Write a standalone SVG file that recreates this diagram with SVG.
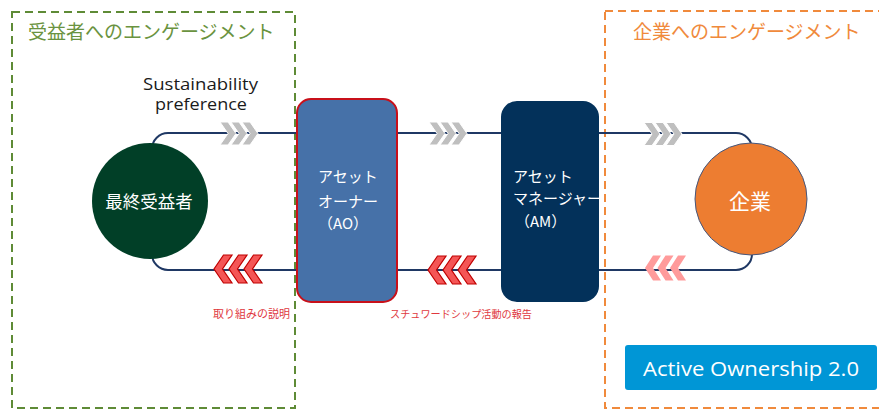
<svg xmlns="http://www.w3.org/2000/svg" xmlns:xlink="http://www.w3.org/1999/xlink" width="879" height="409" viewBox="0 0 879 409">
  <style>
    .jp { font-family: "Noto Sans CJK JP", "Noto Sans", sans-serif; }
    .lat { font-family: "Open Sans", "Noto Sans", "Liberation Sans", sans-serif; }
    .title-green { fill: #6A9340; font-size: 19px; }
    .title-orange { fill: #F08A3C; font-size: 19px; }
    .node-label { fill: #FFFFFF; font-size: 15px; }
    .note-red { fill: #E0393E; }
    .loop { fill: none; stroke: #1F3864; stroke-width: 2; }
  </style>
  <defs>
    <!-- chevron pointing right (gray flow) -->
    <path id="chevR" d="M0,-11.5 H8 L16,0 L8,11.5 H0 L8,0 Z"/>
    <!-- chevron pointing left (red feedback) -->
    <path id="chevL" d="M18,-14 H9.5 L0,0 L9.5,14 H18 L8.5,0 Z"/>
    <!-- smaller left chevron (pink) -->
    <path id="chevLs" d="M16,-12.5 H8 L0,0 L8,12.5 H16 L8,0 Z"/>
  </defs>

  <rect width="879" height="409" fill="#FFFFFF"/>

  <!-- engagement zones -->
  <g id="zone-beneficiary">
    <rect x="12" y="12" width="283" height="396" fill="none" stroke="#5E8B36" stroke-width="2" stroke-dasharray="8 5"/>
    <text class="jp title-green" x="28" y="39">受益者へのエンゲージメント</text>
  </g>
  <g id="zone-company">
    <rect x="605" y="11" width="290" height="397" fill="none" stroke="#F08A3C" stroke-width="2" stroke-dasharray="8 5"/>
    <text class="jp title-orange" x="633" y="39">企業へのエンゲージメント</text>
  </g>

  <!-- connectors: the flow loop and its direction chevrons -->
  <g id="connectors">
    <rect class="loop" x="152" y="133" width="600" height="137" rx="16" ry="16"/>

    <g fill="#BFBFBF" stroke="#FFFFFF" stroke-width="1">
      <use xlink:href="#chevR" transform="translate(220,133.5)"/>
      <use xlink:href="#chevR" transform="translate(231,133.5)"/>
      <use xlink:href="#chevR" transform="translate(242,133.5)"/>

      <use xlink:href="#chevR" transform="translate(429,133.5)"/>
      <use xlink:href="#chevR" transform="translate(440,133.5)"/>
      <use xlink:href="#chevR" transform="translate(451,133.5)"/>

      <use xlink:href="#chevR" transform="translate(644,134)"/>
      <use xlink:href="#chevR" transform="translate(655,134)"/>
      <use xlink:href="#chevR" transform="translate(666,134)"/>
    </g>

    <g fill="#F45656" stroke="#C00000" stroke-width="1.2" stroke-linejoin="miter">
      <use xlink:href="#chevL" transform="translate(244,269)"/>
      <use xlink:href="#chevL" transform="translate(229,269)"/>
      <use xlink:href="#chevL" transform="translate(214,269)"/>

      <use xlink:href="#chevL" transform="translate(458,270)"/>
      <use xlink:href="#chevL" transform="translate(443,270)"/>
      <use xlink:href="#chevL" transform="translate(428,270)"/>
    </g>

    <g fill="#FF9B9B">
      <use xlink:href="#chevLs" transform="translate(670,268)"/>
      <use xlink:href="#chevLs" transform="translate(657.5,268)"/>
      <use xlink:href="#chevLs" transform="translate(645,268)"/>
    </g>

    <text class="lat" x="200.5" y="90" font-size="16" fill="#1A1A1A" text-anchor="middle" textLength="115" lengthAdjust="spacingAndGlyphs">Sustainability</text>
    <text class="lat" x="201" y="110" font-size="16" fill="#1A1A1A" text-anchor="middle" textLength="92" lengthAdjust="spacingAndGlyphs">preference</text>

    <text class="jp note-red" x="213" y="318" font-size="11" textLength="77" lengthAdjust="spacingAndGlyphs">取り組みの説明</text>
    <text class="jp note-red" x="390" y="318" font-size="10.5" textLength="142" lengthAdjust="spacingAndGlyphs">スチュワードシップ活動の報告</text>
  </g>

  <!-- nodes -->
  <g id="node-beneficiary">
    <circle cx="150" cy="201" r="58" fill="#013F27"/>
    <text class="jp" x="149" y="208" font-size="17.5" fill="#FFFFFF" text-anchor="middle">最終受益者</text>
  </g>

  <g id="node-ao">
    <rect x="297" y="99" width="100" height="203" rx="14" ry="14" fill="#4671A8" stroke="#C8101A" stroke-width="2"/>
    <text class="jp node-label" x="318" y="182">アセット</text>
    <text class="jp node-label" x="318" y="207">オーナー</text>
    <text class="jp node-label" x="318" y="229">（AO）</text>
  </g>

  <g id="node-am">
    <rect x="501" y="101" width="98" height="201" rx="16" ry="16" fill="#03315A"/>
    <text class="jp node-label" x="513" y="182">アセット</text>
    <text class="jp node-label" x="513" y="204">マネージャー</text>
    <text class="jp node-label" x="515" y="227">（AM）</text>
  </g>

  <g id="node-company">
    <circle cx="751" cy="199" r="56" fill="#ED7D31" stroke="#45577D" stroke-width="1"/>
    <text class="jp" x="750" y="209" font-size="21" fill="#FFFFFF" text-anchor="middle">企業</text>
  </g>

  <g id="badge-ao2">
    <rect x="625" y="345" width="252" height="45" rx="3" ry="3" fill="#0096D6"/>
    <text class="lat" x="643" y="376" font-size="20" fill="#FFFFFF" textLength="216" lengthAdjust="spacingAndGlyphs">Active Ownership 2.0</text>
  </g>
</svg>
